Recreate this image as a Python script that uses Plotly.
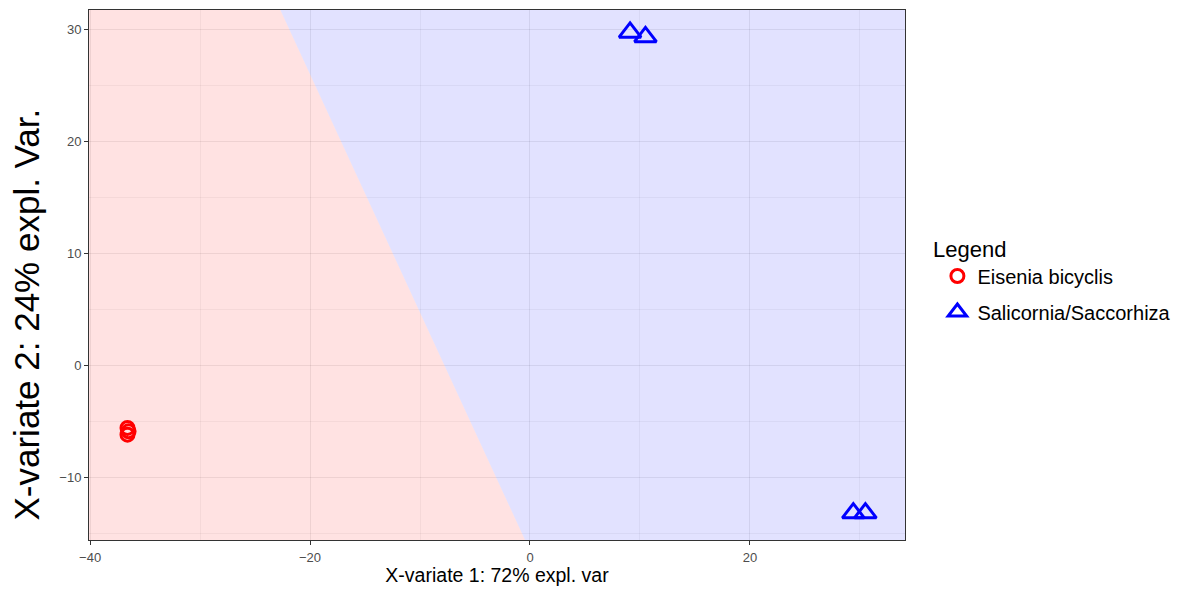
import plotly.graph_objects as go

# Data
group_a = "Eisenia bicyclis"
group_b = "Salicornia/Saccorhiza"
a_x = [-36.6, -36.5, -36.6]
a_y = [-5.6, -5.9, -6.2]
b_x = [9.1, 10.5, 29.4, 30.5]
b_y = [29.7, 29.3, -13.2, -13.2]

x_range = [-40.1, 34.1]
y_range = [-15.6, 31.7]
# prediction boundary endpoints (top, bottom)
boundary_x = [-22.7, -0.45]
boundary_y = [31.7, -15.6]

fig = go.Figure()

# background regions (semi-transparent so the grid shows through)
fig.add_trace(go.Scatter(
    x=[x_range[0], boundary_x[0], boundary_x[1], x_range[0], x_range[0]],
    y=[y_range[1], boundary_y[0], boundary_y[1], y_range[0], y_range[1]],
    fill="toself", fillcolor="rgba(255,0,0,0.115)", mode="none",
    showlegend=False, hoverinfo="skip"))
fig.add_trace(go.Scatter(
    x=[boundary_x[0], x_range[1], x_range[1], boundary_x[1], boundary_x[0]],
    y=[boundary_y[0], y_range[1], y_range[0], boundary_y[1], boundary_y[0]],
    fill="toself", fillcolor="rgba(0,0,255,0.115)", mode="none",
    showlegend=False, hoverinfo="skip"))

fig.add_trace(go.Scatter(
    x=a_x, y=a_y, mode="markers", name=group_a, legendgroup="a",
    marker=dict(symbol="circle-open", size=13, color="#FF0000",
                line=dict(width=3, color="#FF0000"))))
fig.add_trace(go.Scatter(
    x=b_x, y=b_y, mode="markers", name=group_b, legendgroup="b",
    marker=dict(symbol="triangle-up-open", size=19, color="#0000FF",
                line=dict(width=3, color="#0000FF"))))

axis_common = dict(
    showgrid=True, gridcolor="rgba(0,0,0,0.075)", gridwidth=1,
    zeroline=False, showline=True, linecolor="#333333", linewidth=1, mirror=True,
    ticks="outside", ticklen=4, tickcolor="#333333",
    tickfont=dict(family="Liberation Sans, Arial", size=13, color="#4d4d4d"),
)

fig.update_xaxes(range=x_range, dtick=20, tick0=0, ticklabelstandoff=1,
                 minor=dict(showgrid=True, dtick=10, tick0=0, gridcolor="rgba(0,0,0,0.045)"),
                 title=dict(text="X-variate 1: 72% expl. var", standoff=6,
                            font=dict(family="Liberation Sans, Arial", size=19.5, color="black")),
                 **axis_common)
fig.update_yaxes(range=y_range, dtick=10, tick0=0,
                 minor=dict(showgrid=True, dtick=5, tick0=0, gridcolor="rgba(0,0,0,0.045)"),
                 **axis_common)

# y-axis title (placed as in the reference, slightly below the panel centre)
fig.add_annotation(text="X-variate 2: 24% expl. Var.", xref="paper", yref="paper",
                   x=(18 - 81) / 816, y=(532 - 306.5) / 530, xanchor="center", yanchor="middle",
                   textangle=-90, showarrow=False,
                   font=dict(family="Liberation Sans, Arial", size=35, color="black"))

fig.add_annotation(text="Legend", xref="paper", yref="paper",
                   x=1.032, y=(540 - 241 - 8) / 530, xanchor="left", yanchor="middle",
                   showarrow=False, font=dict(family="Liberation Sans, Arial", size=22, color="black"))

fig.update_layout(
    width=1165, height=578,
    margin=dict(l=81, r=268, t=2, b=46, autoexpand=False),
    plot_bgcolor="white", paper_bgcolor="white",
    font=dict(family="Liberation Sans, Arial"),
    legend=dict(x=1.0397, y=(540 - 294) / 530, xanchor="left", yanchor="middle",
                font=dict(size=20, color="black"), itemsizing="trace",
                tracegroupgap=7),
)

fig.write_html("out.html")
